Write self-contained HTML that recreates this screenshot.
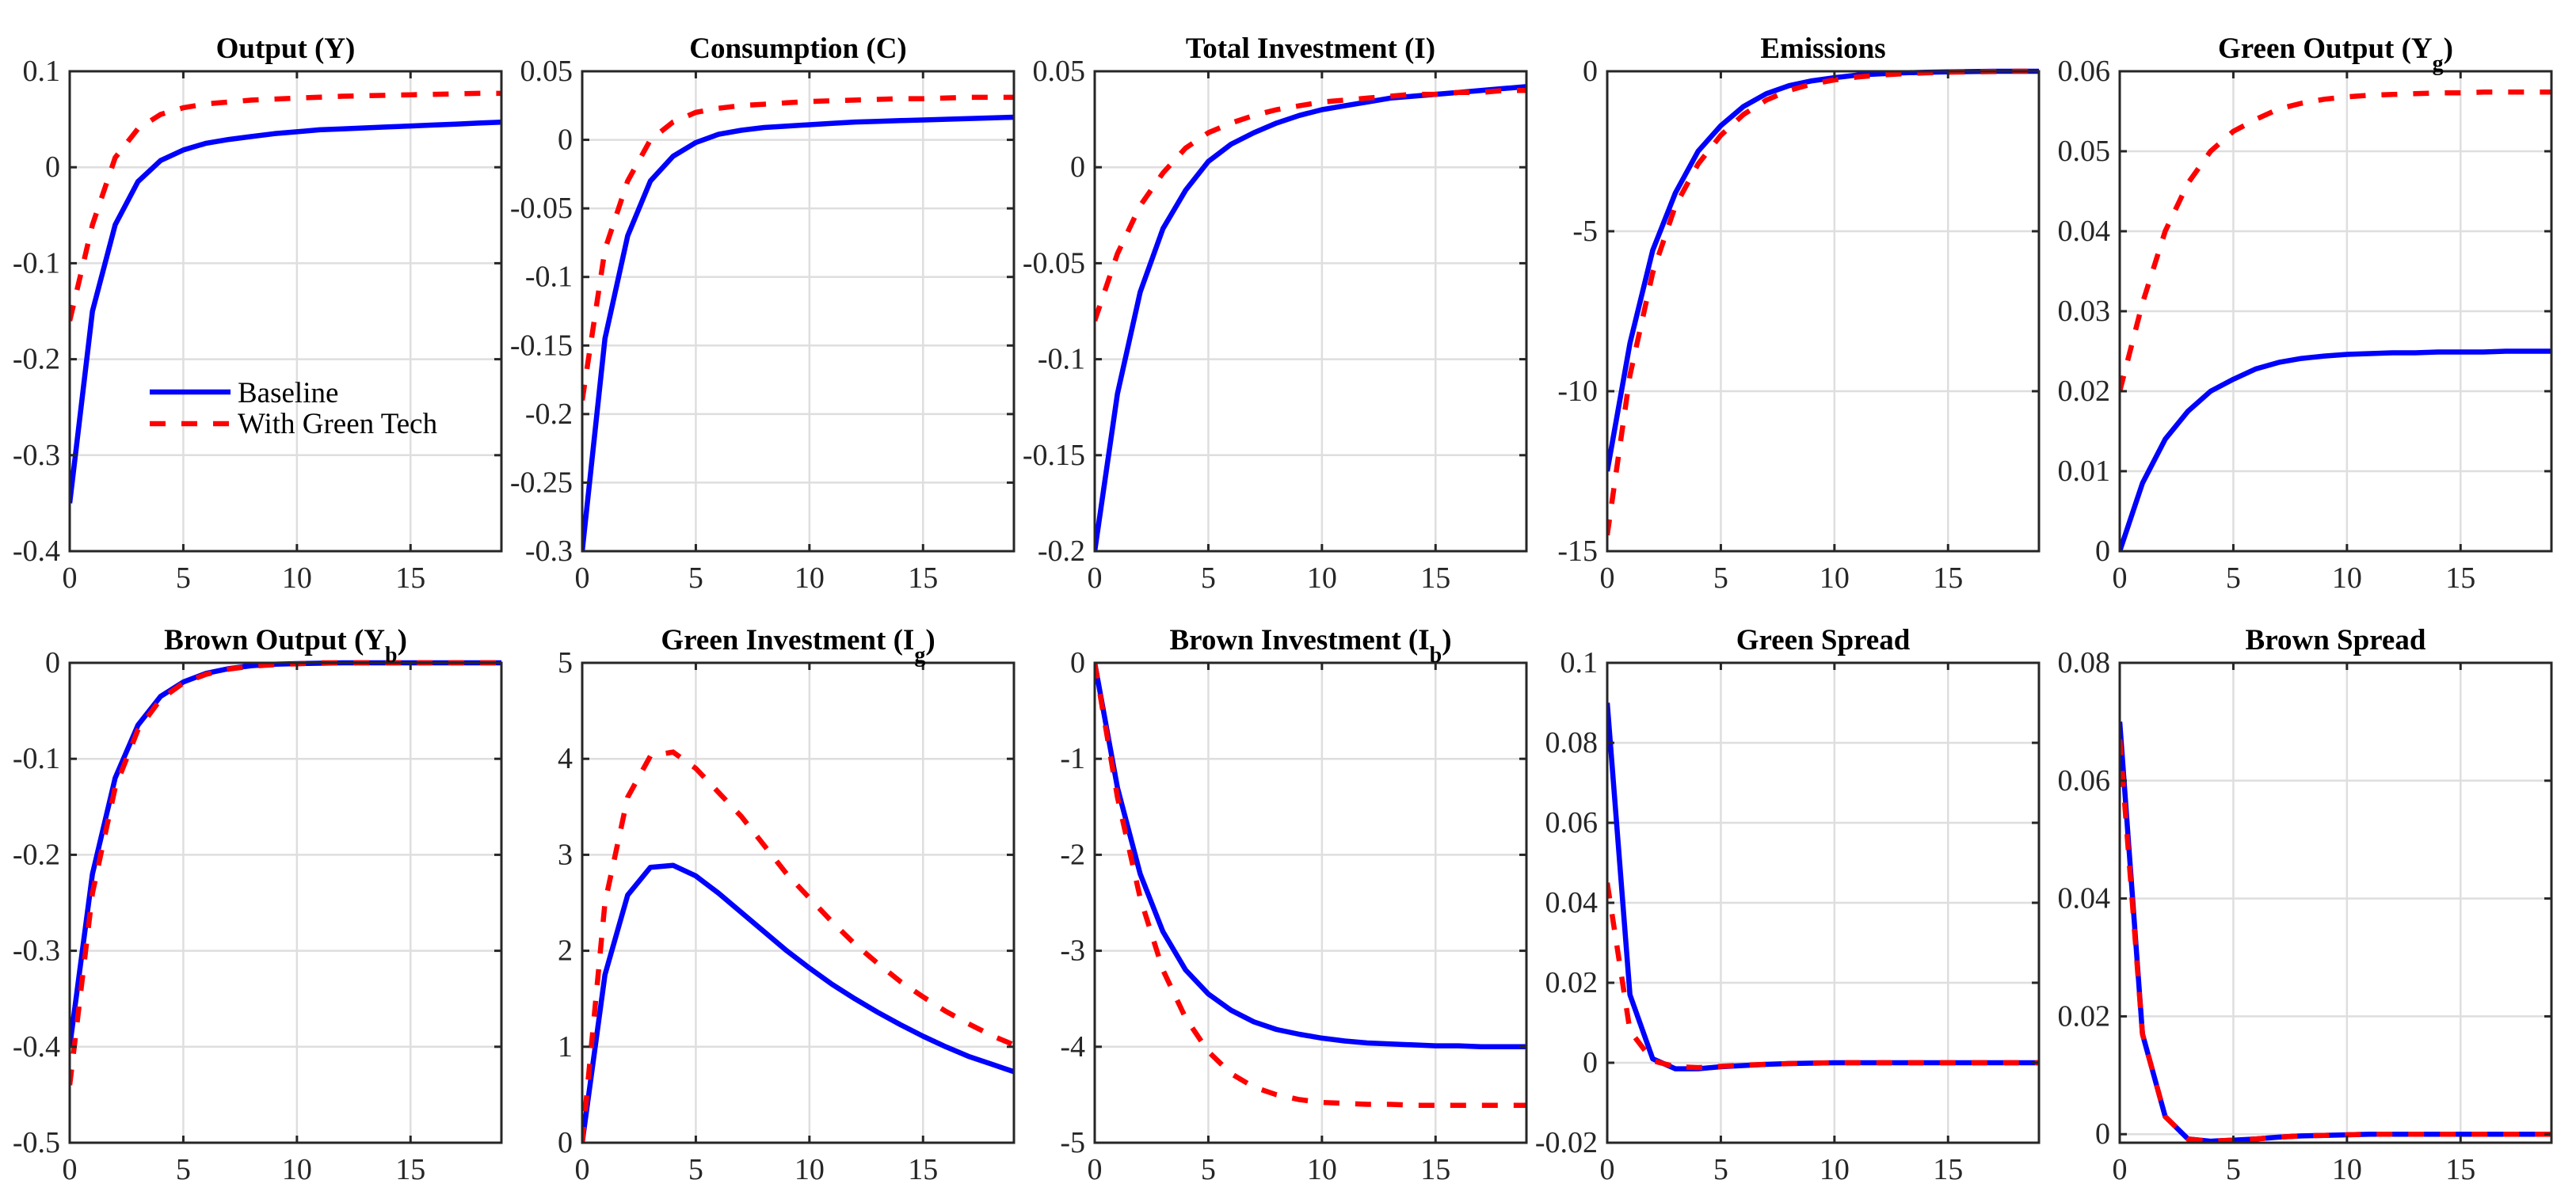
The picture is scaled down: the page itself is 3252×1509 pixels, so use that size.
<!DOCTYPE html>
<html><head><meta charset="utf-8"><style>
html,body{margin:0;padding:0;background:#fff;}
svg{display:block;}
svg text{font-family:"Liberation Serif","DejaVu Serif",serif;}
</style></head><body>
<svg id="fig" xmlns="http://www.w3.org/2000/svg" width="3252" height="1509" viewBox="0 0 3252 1509"></svg>
<script>
const periods = [0,1,2,3,4,5,6,7,8,9,10,11,12,13,14,15,16,17,18,19];
const titles = ["Output (Y)","Consumption (C)","Total Investment (I)","Emissions","Green Output (Y_g)","Brown Output (Y_b)","Green Investment (I_g)","Brown Investment (I_b)","Green Spread","Brown Spread"];
const yLims = [[-0.4,0.1],[-0.3,0.05],[-0.2,0.05],[-15,0],[0,0.06],[-0.5,0],[0,5],[-5,0],[-0.02,0.1],[-0.00145,0.08]];
const yTicks = [
 [-0.4,-0.3,-0.2,-0.1,0,0.1],
 [-0.3,-0.25,-0.2,-0.15,-0.1,-0.05,0,0.05],
 [-0.2,-0.15,-0.1,-0.05,0,0.05],
 [-15,-10,-5,0],
 [0,0.01,0.02,0.03,0.04,0.05,0.06],
 [-0.5,-0.4,-0.3,-0.2,-0.1,0],
 [0,1,2,3,4,5],
 [-5,-4,-3,-2,-1,0],
 [-0.02,0,0.02,0.04,0.06,0.08,0.1],
 [0,0.02,0.04,0.06,0.08]
];
const xTicks = [0,5,10,15];
const baseOutput = [-0.35,-0.15,-0.06,-0.015,0.007,0.018,0.025,0.029,0.032,0.035,0.037,0.039,0.040,0.041,0.042,0.043,0.044,0.045,0.046,0.047];
const greenOutputTotal = [-0.16,-0.06,0.01,0.04,0.055,0.062,0.066,0.068,0.070,0.071,0.072,0.073,0.074,0.0745,0.075,0.0755,0.076,0.0765,0.077,0.077];
const baseCons = [-0.3,-0.145,-0.07,-0.03,-0.012,-0.002,0.004,0.007,0.009,0.010,0.011,0.012,0.013,0.0135,0.014,0.0145,0.015,0.0155,0.016,0.0165];
const greenCons = [-0.19,-0.08,-0.03,0.0,0.013,0.02,0.023,0.025,0.026,0.027,0.028,0.0285,0.029,0.0295,0.030,0.030,0.0305,0.031,0.031,0.031];
const baseInv = [-0.2,-0.118,-0.065,-0.032,-0.012,0.003,0.012,0.018,0.023,0.027,0.030,0.032,0.034,0.036,0.037,0.038,0.039,0.040,0.041,0.042];
const greenInv = [-0.08,-0.045,-0.02,-0.003,0.01,0.018,0.023,0.027,0.030,0.032,0.034,0.035,0.036,0.037,0.038,0.038,0.039,0.039,0.040,0.040];
const baseEmis = [-12.5,-8.5,-5.6,-3.8,-2.5,-1.7,-1.1,-0.7,-0.45,-0.3,-0.2,-0.12,-0.08,-0.05,-0.03,-0.02,-0.01,0,0,0];
const greenEmis = [-14.5,-9.5,-6.3,-4.2,-2.9,-2.0,-1.35,-0.9,-0.6,-0.4,-0.27,-0.18,-0.12,-0.08,-0.05,-0.03,-0.02,-0.01,0,0];
const baseYg = [0,0.0085,0.014,0.0175,0.02,0.0215,0.0228,0.0236,0.0241,0.0244,0.0246,0.0247,0.0248,0.0248,0.0249,0.0249,0.0249,0.025,0.025,0.025];
const greenYg = [0.02,0.031,0.040,0.046,0.050,0.0525,0.054,0.0553,0.056,0.0565,0.0568,0.057,0.0571,0.0572,0.0573,0.0573,0.0574,0.0574,0.0574,0.0574];
const baseYb = [-0.4,-0.22,-0.12,-0.065,-0.035,-0.02,-0.011,-0.006,-0.003,-0.0015,-0.0008,-0.0004,0,0,0,0,0,0,0,0];
const greenYb = [-0.44,-0.24,-0.13,-0.07,-0.038,-0.021,-0.012,-0.0065,-0.0035,-0.002,-0.001,0,0,0,0,0,0,0,0,0];
const baseIg = [0,1.75,2.58,2.87,2.89,2.78,2.6,2.4,2.2,2.0,1.82,1.65,1.5,1.36,1.23,1.11,1.0,0.9,0.82,0.74];
const greenIg = [0,2.5,3.6,4.03,4.07,3.9,3.65,3.4,3.1,2.8,2.55,2.3,2.07,1.87,1.68,1.52,1.37,1.24,1.12,1.02];
const baseIb = [0,-1.3,-2.2,-2.8,-3.2,-3.45,-3.62,-3.74,-3.82,-3.87,-3.91,-3.94,-3.96,-3.97,-3.98,-3.99,-3.99,-4.0,-4.0,-4.0];
const greenIb = [0,-1.4,-2.45,-3.2,-3.7,-4.05,-4.28,-4.42,-4.5,-4.55,-4.58,-4.59,-4.6,-4.6,-4.61,-4.61,-4.61,-4.61,-4.61,-4.61];
const baseGS = [0.09,0.017,0.001,-0.0015,-0.0015,-0.001,-0.0007,-0.0004,-0.0002,-0.0001,0,0,0,0,0,0,0,0,0,0];
const greenGS = [0.045,0.008,0.0005,-0.001,-0.0012,-0.0009,-0.0006,-0.0004,-0.0002,-0.0001,0,0,0,0,0,0,0,0,0,0];
const baseBS = [0.07,0.017,0.003,-0.0008,-0.0012,-0.001,-0.0008,-0.0005,-0.0003,-0.0002,-0.0001,0,0,0,0,0,0,0,0,0];
const greenBS = [0.067,0.017,0.003,-0.0008,-0.0012,-0.001,-0.0008,-0.0005,-0.0003,-0.0002,-0.0001,0,0,0,0,0,0,0,0,0];
const baselineSeries = [baseOutput,baseCons,baseInv,baseEmis,baseYg,baseYb,baseIg,baseIb,baseGS,baseBS];
const greenSeries = [greenOutputTotal,greenCons,greenInv,greenEmis,greenYg,greenYb,greenIg,greenIb,greenGS,greenBS];
const panelNames = ["output","consumption","total-investment","emissions","green-output","brown-output","green-investment","brown-investment","green-spread","brown-spread"];

const NS = "http://www.w3.org/2000/svg";
const svg = document.getElementById("fig");
function mk(tag, attrs, parent){const e=document.createElementNS(NS,tag);for(const k in attrs)e.setAttribute(k,attrs[k]);(parent||svg).appendChild(e);return e;}
const W=545, H=606, lefts=[88,735,1382,2029,2676], tops=[90,837];
function fmt(v){return String(+v.toFixed(4));}

for(let p=0;p<10;p++){
  const L=lefts[p%5], T=tops[Math.floor(p/5)];
  const [y0,y1]=yLims[p];
  const xs=v=>L+(v-0)/19*W;
  const ys=v=>T+H-(v-y0)/(y1-y0)*H;
  const g=mk("g",{});
  
  
  mk("rect",{x:L,y:T,width:W,height:H,fill:"#fff"},g);
  xTicks.forEach(t=>{ if(t>0) mk("line",{x1:xs(t),x2:xs(t),y1:T,y2:T+H,stroke:"#dedede","stroke-width":2.5},g);});
  yTicks[p].forEach(t=>{ const y=ys(t); if(Math.abs(y-T)>2&&Math.abs(y-T-H)>2) mk("line",{x1:L,x2:L+W,y1:y,y2:y,stroke:"#dedede","stroke-width":2.5},g);});
  const clip=mk("clipPath",{id:"c"+p},g); mk("rect",{x:L,y:T-4,width:W,height:H+8},clip);
  const ptsB=periods.map((t,i)=>xs(t).toFixed(1)+","+ys(baselineSeries[p][i]).toFixed(1)).join(" ");
  const ptsG=periods.map((t,i)=>xs(t).toFixed(1)+","+ys(greenSeries[p][i]).toFixed(1)).join(" ");
  const lb=mk("polyline",{points:ptsB,fill:"none",stroke:"#0000ff","stroke-width":6.5,"stroke-linejoin":"round","clip-path":"url(#c"+p+")"},g);
  
  
  const lg=mk("polyline",{points:ptsG,fill:"none",stroke:"#ff0000","stroke-width":6.5,"stroke-dasharray":"20 20","clip-path":"url(#c"+p+")"},g);
  
  
  mk("rect",{x:L,y:T,width:W,height:H,fill:"none",stroke:"#262626","stroke-width":3},g);
  xTicks.forEach(t=>{const x=xs(t);
    mk("line",{x1:x,x2:x,y1:T+H,y2:T+H-9,stroke:"#262626","stroke-width":3},g);
    mk("line",{x1:x,x2:x,y1:T,y2:T+9,stroke:"#262626","stroke-width":3},g);
    const tx=mk("text",{x:x,y:T+H+46,"font-size":38,fill:"#262626","text-anchor":"middle"},g);
    tx.textContent=String(t);
    
    
  });
  yTicks[p].forEach(t=>{const y=ys(t);
    mk("line",{x1:L,x2:L+9,y1:y,y2:y,stroke:"#262626","stroke-width":3},g);
    mk("line",{x1:L+W,x2:L+W-9,y1:y,y2:y,stroke:"#262626","stroke-width":3},g);
    const ty=mk("text",{x:L-12,y:y+12,"font-size":38,fill:"#262626","text-anchor":"end"},g);
    ty.textContent=fmt(t);
    
    
  });
  const tt=mk("text",{x:L+W/2,y:T-17,"font-size":37,"font-weight":"bold",fill:"#000","text-anchor":"middle"},g);
  
  
  const parts=titles[p].split("_");
  if(parts.length===1){tt.textContent=titles[p];}
  else{
    const a=mk("tspan",{},tt);a.textContent=parts[0];
    const b=mk("tspan",{dy:16,"font-size":28},tt);b.textContent=parts[1].charAt(0);
    const c=mk("tspan",{dy:-16},tt);c.textContent=parts[1].slice(1);
  }
}
const lgd=mk("g",{});


const le1=mk("line",{x1:189,x2:291,y1:495,y2:495,stroke:"#0000ff","stroke-width":6.5},lgd);


const t1=mk("text",{x:300,y:508,"font-size":37,fill:"#000"},lgd);t1.textContent="Baseline";


const le2=mk("line",{x1:189,x2:291,y1:535,y2:535,stroke:"#ff0000","stroke-width":6.5,"stroke-dasharray":"20 20"},lgd);


const t2=mk("text",{x:300,y:547,"font-size":37,fill:"#000"},lgd);t2.textContent="With Green Tech";


</script>
</body></html>
